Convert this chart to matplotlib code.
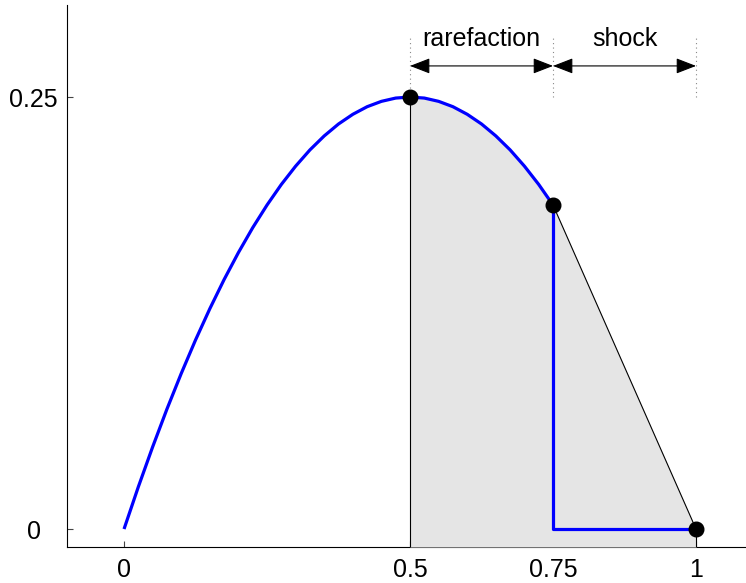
import matplotlib
matplotlib.use('Agg')
import matplotlib.pyplot as plt

plt.rcParams['font.family'] = ['Liberation Sans', 'DejaVu Sans']

# flux curve, u from 0 to 0.75
u_curve = [0, 0.025, 0.05, 0.075, 0.1, 0.125, 0.15, 0.175, 0.2, 0.225, 0.25,
           0.275, 0.3, 0.325, 0.35, 0.375, 0.4, 0.425, 0.45, 0.475, 0.5,
           0.525, 0.55, 0.575, 0.6, 0.625, 0.65, 0.675, 0.7, 0.725, 0.75]
f_curve = [0, 0.0244, 0.0475, 0.0694, 0.09, 0.1094, 0.1275, 0.1444, 0.16,
           0.1744, 0.1875, 0.1994, 0.21, 0.2194, 0.2275, 0.2344, 0.24, 0.2444,
           0.2475, 0.2494, 0.25, 0.2494, 0.2475, 0.2444, 0.24, 0.2344, 0.2275,
           0.2194, 0.21, 0.1994, 0.1875]
# jump down and flat part
u_jump = [0.75, 0.75, 1.0]
f_jump = [0.1875, 0.0, 0.0]
# hull points (black dots)
u_hull = [0.5, 0.75, 1.0]
f_hull = [0.25, 0.1875, 0.0]

x_ticks = [0, 0.5, 0.75, 1]
x_ticklabels = ['0', '0.5', '0.75', '1']
y_ticks = [0, 0.25]
y_ticklabels = ['0', '0.25']

wave_names = ['rarefaction', 'shock']
wave_ranges = [(0.5, 0.75), (0.75, 1.0)]

fig = plt.figure(figsize=(7.46, 5.83), dpi=100)
ylo, yhi = -0.0104, 0.303
xlo, xhi = -0.0997, 1.1
ax = fig.add_axes([67 / 746, 36 / 583, (xhi - xlo) * 572 / 746, (yhi - ylo) * 1728 / 583])
ax.set_xlim(xlo, xhi)
ax.set_ylim(ylo, yhi)

# shaded region under the convex hull
i0 = u_curve.index(0.5)
fill_u = u_curve[i0:] + [u_hull[-1]]
fill_f = f_curve[i0:] + [f_hull[-1]]
ax.fill_between(fill_u, fill_f, ylo, color='#e5e5e5', lw=0, zorder=3)

# thin black edges
ax.plot([0.5, 0.5], [ylo, 0.25], color='k', lw=0.8, zorder=4)
ax.plot(u_hull[1:], f_hull[1:], color='k', lw=0.8, zorder=4)
ax.plot([1.0, 1.0], [ylo, 0.0], color='k', lw=0.8, zorder=4)

ax.plot(u_curve, f_curve, color='#0000ff', lw=2.3, zorder=5, solid_capstyle='butt')
ax.plot(u_jump, f_jump, color='#0000ff', lw=2.3, zorder=5)
ax.plot(u_hull, f_hull, 'o', color='k', ms=10.5, zorder=6)

# dotted guides and arrows
for xv in u_hull:
    ax.plot([xv, xv], [0.25, 0.286], color='#888888', lw=0.8, ls=(0, (1, 3)), zorder=4)
for name, (a, b) in zip(wave_names, wave_ranges):
    ax.annotate('', xy=(b, 0.268), xytext=(a, 0.268),
                arrowprops=dict(arrowstyle='<|-|>,head_length=0.62,head_width=0.24',
                                color='k', lw=0.8, shrinkA=0, shrinkB=0,
                                mutation_scale=20))
    ax.text((a + b) / 2, 0.2795, name, ha='center', va='baseline', fontsize=18)

ax.spines['top'].set_visible(False)
ax.spines['right'].set_visible(False)
ax.spines['left'].set_linewidth(0.8)
ax.spines['bottom'].set_linewidth(0.8)
ax.set_xticks(x_ticks)
ax.set_xticklabels(x_ticklabels, fontsize=18)
ax.set_yticks(y_ticks)
ax.set_yticklabels(y_ticklabels, fontsize=18)
ax.tick_params(direction='in', length=4, width=0.8, color='#444444')
ax.tick_params(axis='x', pad=8)
ax.tick_params(axis='y', pad=24)
for lab in ax.get_yticklabels():
    lab.set_horizontalalignment('center')

fig.savefig('out.png', dpi=100)
